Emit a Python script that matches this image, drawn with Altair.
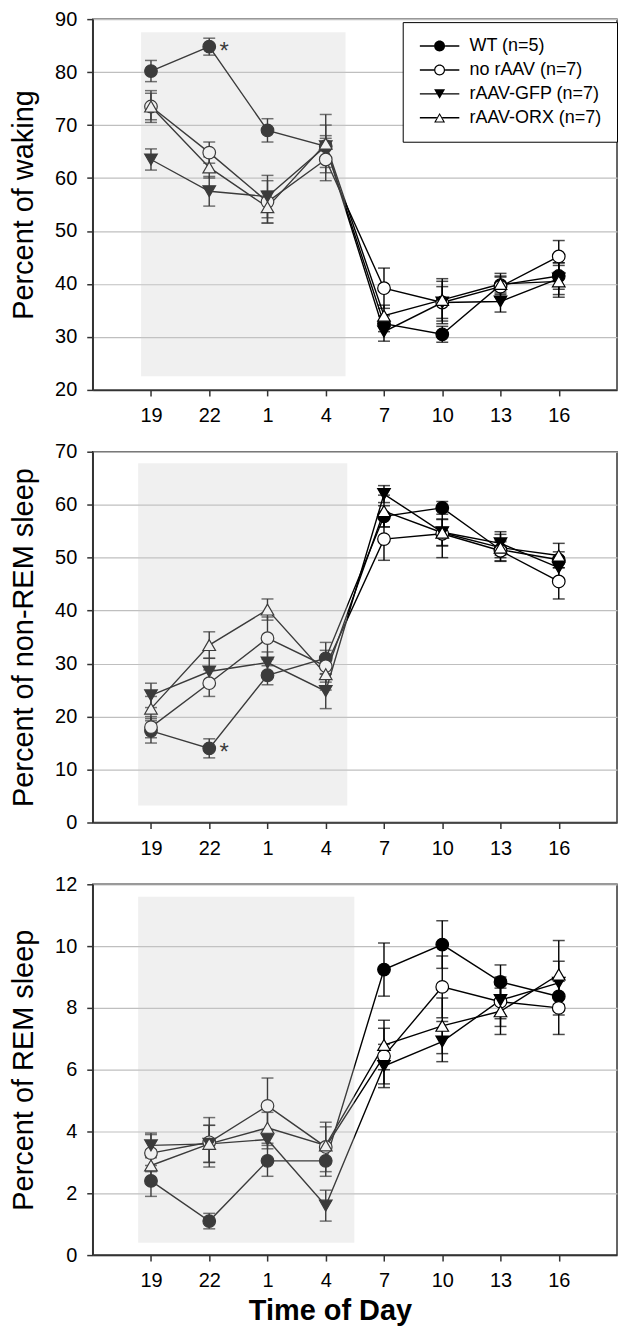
import altair as alt
import pandas as pd

# ---------------- data ----------------
hours = ["19", "22", "1", "4", "7", "10", "13", "16"]
groups = ["WT (n=5)", "no rAAV (n=7)", "rAAV-GFP (n=7)", "rAAV-ORX (n=7)"]

# Percent of waking
wake_wt = [80.2, 84.8, 69.0, 66.0, 32.5, 30.5, 39.8, 41.5]
wake_wt_sem = [2.0, 1.6, 2.2, 2.0, 1.5, 1.5, 1.5, 2.5]
wake_no = [73.5, 64.8, 55.5, 63.5, 39.2, 36.5, 39.5, 45.2]
wake_no_sem = [2.5, 2.0, 4.0, 4.0, 3.8, 4.0, 2.0, 3.0]
wake_gfp = [63.5, 57.5, 56.5, 66.0, 31.0, 36.5, 36.7, 41.0]
wake_gfp_sem = [2.0, 2.8, 4.0, 4.0, 1.8, 3.0, 2.0, 3.0]
wake_orx = [73.5, 62.0, 54.5, 66.5, 34.0, 37.0, 40.0, 40.5]
wake_orx_sem = [3.0, 2.0, 3.0, 5.5, 2.0, 4.0, 2.0, 3.0]

# Percent of non-REM sleep
nrem_wt = [17.3, 14.0, 27.8, 31.0, 57.8, 59.4, 51.5, 49.6]
nrem_wt_sem = [2.3, 1.8, 1.8, 3.0, 2.0, 1.2, 1.5, 1.5]
nrem_no = [18.0, 26.3, 34.8, 29.5, 53.5, 54.5, 51.3, 45.5]
nrem_no_sem = [2.0, 2.5, 4.0, 3.0, 4.0, 4.5, 2.0, 3.3]
nrem_gfp = [24.0, 28.5, 30.2, 24.8, 62.0, 54.8, 52.7, 48.1]
nrem_gfp_sem = [2.3, 2.5, 2.0, 3.3, 1.6, 2.5, 2.2, 2.0]
nrem_orx = [21.5, 33.5, 40.2, 28.0, 58.8, 54.7, 51.9, 50.4]
nrem_orx_sem = [2.3, 2.5, 2.0, 3.0, 3.0, 2.5, 2.5, 2.3]

# Percent of REM sleep
rem_wt = [2.4, 1.1, 3.05, 3.05, 9.24, 10.05, 8.84, 8.37]
rem_wt_sem = [0.5, 0.25, 0.5, 0.5, 0.86, 0.77, 0.55, 0.6]
rem_no = [3.3, 3.65, 4.83, 3.5, 6.44, 8.68, 8.2, 8.0]
rem_no_sem = [0.6, 0.8, 0.9, 0.8, 0.9, 1.0, 0.8, 0.86]
rem_gfp = [3.55, 3.6, 3.74, 1.6, 6.12, 6.91, 8.25, 8.81]
rem_gfp_sem = [0.4, 0.6, 0.3, 0.5, 0.7, 0.65, 0.6, 0.7]
rem_orx = [2.9, 3.6, 4.12, 3.55, 6.80, 7.42, 7.89, 9.08]
rem_orx_sem = [0.5, 0.6, 0.5, 0.6, 0.8, 0.9, 0.75, 1.1]

# significance marks (group, hour)
star_wake = [("WT (n=5)", "22")]
star_nrem = [("WT (n=5)", "22")]

# dark-period shading extents (x in hour-slot units, y in data units)
shade_wake = {"x1": -0.17, "x2": 3.34, "y1": 22.6, "y2": 87.5}
shade_nrem = {"x1": -0.22, "x2": 3.37, "y1": 3.2, "y2": 67.8}
shade_rem = {"x1": -0.22, "x2": 3.49, "y1": 0.4, "y2": 11.6}

# ---------------- styling helpers ----------------
FONT = "Liberation Sans"
W, H = 526, 372
marker_shape = ["circle", "circle", "triangle-down", "triangle-up"]
marker_fill = ["black", "white", "black", "white"]

STUB_C = "M-3.6,-0.13H-1V0.13H-3.6ZM1,-0.13H3.6V0.13H1Z"
STUB_T = "M-3.6,-0.13H-0.5V0.13H-3.6ZM0.5,-0.13H3.6V0.13H0.5Z"
DISK = "M1,0A1,1,0,1,1,-1,0A1,1,0,1,1,1,0Z"
RING = DISK + "M0.78,0A0.78,0.78,0,1,0,-0.78,0A0.78,0.78,0,1,0,0.78,0Z"
TRI_DOWN = "M0,0.866L-1,-0.866L1,-0.866Z"
TRI_UP = "M0,-0.866L-1,0.866L1,0.866Z"
TRI_UP_OPEN = TRI_UP + "M0,-0.52L0.67,0.68L-0.67,0.68Z"
legend_paths = [STUB_C + DISK, STUB_C + RING, STUB_T + TRI_DOWN, STUB_T + TRI_UP_OPEN]

label_expr = "[" + ",".join("'%s'" % h for h in hours) + "][datum.value]"


def long_df(means, sems):
    rows = []
    for g, m, s in zip(groups, means, sems):
        for i, (v, e) in enumerate(zip(m, s)):
            rows.append({"pos": i, "hour": hours[i], "group": g,
                         "mean": v, "lo": v - e, "hi": v + e})
    return pd.DataFrame(rows)


def panel(df, ydom, ystep, ytitle, shade, stars, xtitle=False, legend=False):
    if xtitle:
        xaxis = alt.Axis(values=list(range(len(hours))), labelExpr=label_expr,
                         grid=False, title="Time of Day", titleFontWeight="bold",
                         titleX=238, titlePadding=6)
    else:
        xaxis = alt.Axis(values=list(range(len(hours))), labelExpr=label_expr,
                         grid=False, title=None)
    xenc = alt.X("pos:Q", scale=alt.Scale(domain=[-1, len(hours)], nice=False, zero=False),
                 axis=xaxis)
    yvals = []
    v = ydom[0]
    while v <= ydom[1] + 1e-9:
        yvals.append(v)
        v += ystep
    yscale = alt.Scale(domain=ydom, nice=False, zero=False)
    yenc = alt.Y("mean:Q", scale=yscale,
                 axis=alt.Axis(values=yvals, grid=True, title=ytitle))
    base = alt.Chart(df).encode(x=xenc)

    line = base.mark_line(color="black", strokeWidth=1.4).encode(
        y=yenc, detail="group:N", order="pos:Q")
    rule = base.mark_rule(color="black", strokeWidth=1.4).encode(
        y=alt.Y("lo:Q", scale=yscale), y2="hi:Q")
    cap_lo = base.mark_tick(color="black", orient="horizontal", size=12, thickness=1.5).encode(
        y=alt.Y("lo:Q", scale=yscale))
    cap_hi = base.mark_tick(color="black", orient="horizontal", size=12, thickness=1.5).encode(
        y=alt.Y("hi:Q", scale=yscale))

    pts = []
    for g, shp, fc in zip(groups, marker_shape, marker_fill):
        pts.append(alt.Chart(df[df["group"] == g]).mark_point(
            shape=shp, fill=fc, filled=False, fillOpacity=1, size=160,
            stroke="black", strokeWidth=1.2, opacity=1).encode(
            x=alt.X("pos:Q"), y=alt.Y("mean:Q", scale=yscale)))

    sdf = df[[(g, h) in stars for g, h in zip(df["group"], df["hour"])]]
    star = alt.Chart(sdf).mark_text(text="*", font=FONT, fontSize=24, dx=15, dy=5,
                                    color="black").encode(
        x=alt.X("pos:Q"), y=alt.Y("mean:Q", scale=yscale))

    shade_df = pd.DataFrame([shade])
    rect = alt.Chart(shade_df).mark_rect(color="#cbcbcb", opacity=0.29).encode(
        x="x1:Q", x2="x2:Q", y=alt.Y("y1:Q", scale=yscale), y2="y2:Q")

    layers = [line, rule, cap_lo, cap_hi] + pts + [star, rect]
    if legend:
        leg = base.mark_point(filled=True, color="black", size=121, opacity=0).encode(
            y=alt.Y("mean:Q", scale=yscale),
            shape=alt.Shape("group:N", scale=alt.Scale(domain=groups, range=legend_paths),
                            legend=alt.Legend(
                                title=None, orient="none", legendX=311, legendY=3,
                                padding=15, symbolOffset=13, labelOffset=21, rowPadding=6,
                                labelFont=FONT, labelFontSize=18, labelColor="black",
                                strokeColor="black", fillColor="white",
                                symbolSize=121, symbolStrokeWidth=0,
                                symbolFillColor="black", symbolOpacity=1,
                                cornerRadius=0)),
        )
        layers.append(leg)
    return alt.layer(*layers).properties(width=W, height=H)


p1 = panel(long_df([wake_wt, wake_no, wake_gfp, wake_orx],
                   [wake_wt_sem, wake_no_sem, wake_gfp_sem, wake_orx_sem]),
           [20, 90], 10, "Percent of waking", shade_wake, star_wake, legend=True)
p2 = panel(long_df([nrem_wt, nrem_no, nrem_gfp, nrem_orx],
                   [nrem_wt_sem, nrem_no_sem, nrem_gfp_sem, nrem_orx_sem]),
           [0, 70], 10, "Percent of non-REM sleep", shade_nrem, star_nrem)
p3 = panel(long_df([rem_wt, rem_no, rem_gfp, rem_orx],
                   [rem_wt_sem, rem_no_sem, rem_gfp_sem, rem_orx_sem]),
           [0, 12], 2, "Percent of REM sleep", shade_rem, [], xtitle=True)

chart = alt.vconcat(
    p1, p2, p3, spacing=14,
    padding={"left": 1, "top": -2, "right": 2, "bottom": 2},
).configure_view(
    stroke="#333333", strokeWidth=1.5
).configure_axis(
    domainColor="#333333", domainWidth=1.5, tickColor="#333333", tickWidth=1.5,
    tickSize=6, labelFont=FONT, labelFontSize=20, labelColor="black",
    labelPadding=10, titleFont=FONT, titleFontSize=29, titleFontWeight="normal",
    titleColor="black", titlePadding=16, gridColor="#bfbfbf", gridWidth=1.2,
)

chart.save("out.html", embed_options={"renderer": "svg", "actions": False})
